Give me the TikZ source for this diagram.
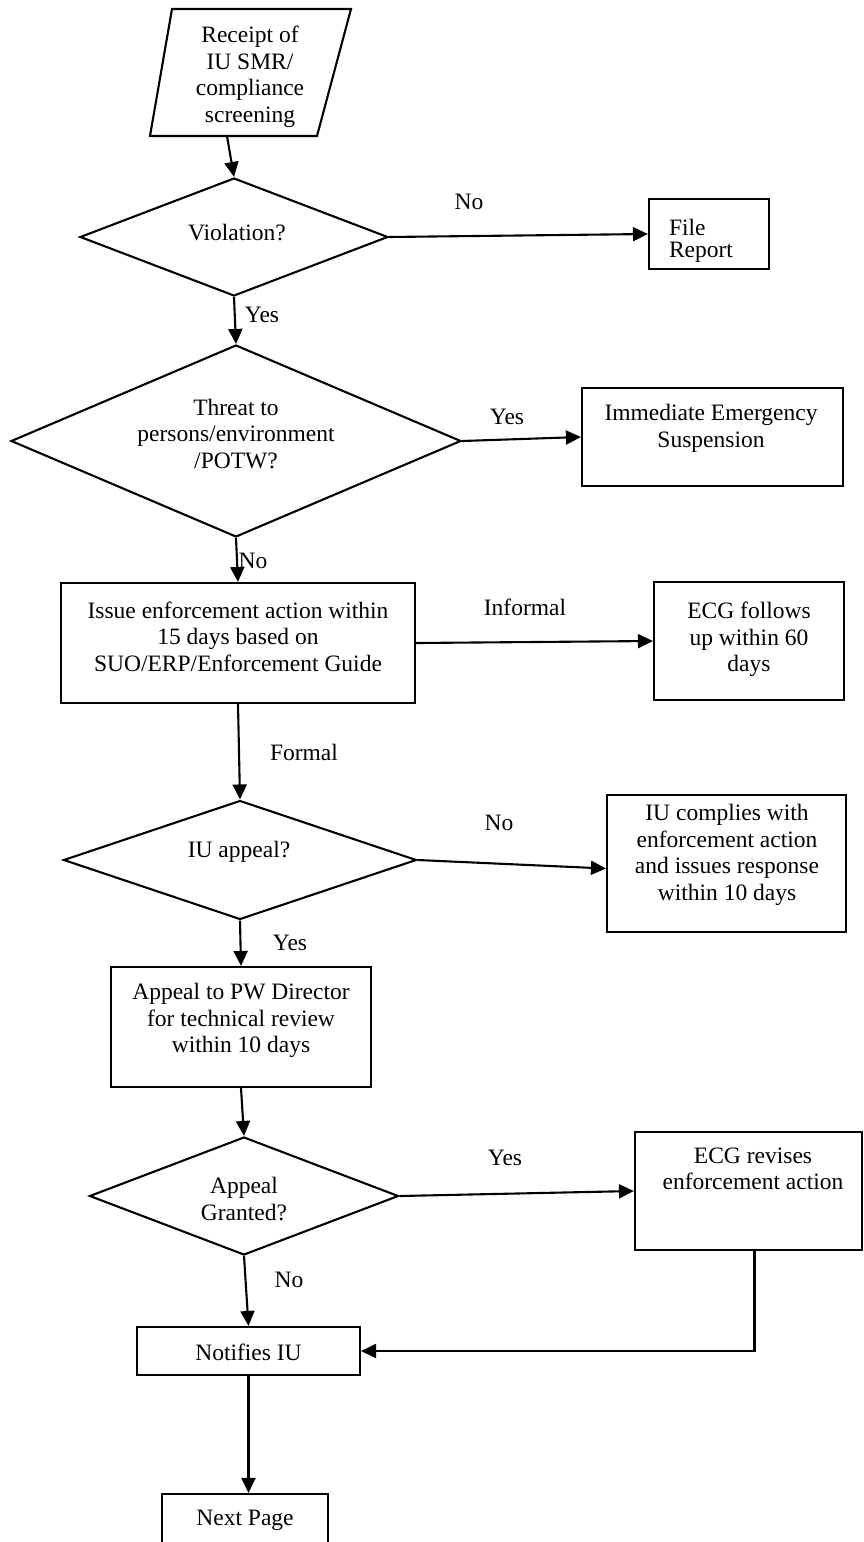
\documentclass[tikz,border=0pt]{standalone}
\usepackage{fontspec}
\setmainfont{Liberation Serif}
\usetikzlibrary{shapes.geometric,arrows.meta}
\begin{document}
\begin{tikzpicture}[x=1pt,y=-1pt,line width=2.1pt,
  arr/.style={-{Triangle[length=15pt,width=14pt]}},
  box/.style={draw,rectangle,inner sep=0pt},
  dia/.style={draw,diamond,inner sep=0pt},
  txt/.style={align=center,inner sep=0pt,font=\fontsize{23.5}{26.5}\selectfont},
  lbl/.style={inner sep=0pt,font=\fontsize{23.5}{26.5}\selectfont}]
\useasboundingbox (0,0) rectangle (864,1542);
\clip (0,0) rectangle (864,1542);
\fill[white] (0,0) rectangle (864,1542);
% input parallelogram
\coordinate (p1) at (172,9);
\coordinate (p2) at (351,9);
\coordinate (p3) at (317,136);
\coordinate (p4) at (150,136);
\draw (p1) -- (p2) -- (p3) -- (p4) -- cycle;
\node[txt] (rec) at (250,77) {Receipt of\\IU SMR/\\compliance\\screening};
\coordinate (recb) at (227,136);
% diamond 1
\node[dia,minimum width=308pt,minimum height=118pt] (d1) at (234,237) {};
\node[txt] (d1t) at (237,233) {Violation?};
\draw[arr] (recb) -- (d1.north);
% file report
\node[box,minimum width=120pt,minimum height=70pt] (fr) at (709,234) {};
\node[align=left,inner sep=0pt,anchor=west,font=\fontsize{23.5}{22}\selectfont] (frt) at (668,241) {File\\Report};
\draw[arr] (d1.east) -- (fr.west);
\node[lbl] (l1) at (469,202) {No};
% diamond 2
\node[lbl] (l2) at (262,315) {Yes};
\node[dia,minimum width=450pt,minimum height=192pt] (d2) at (236,441) {};
\node[txt] (d2t) at (236,434) {Threat to\\persons/environment\\/POTW?};
\draw[arr] (d1.south) -- (d2.north);
% immediate
\node[box,minimum width=261pt,minimum height=98pt] (imm) at (712.5,437) {};
\node[txt] (immt) at (711,428.5) {Immediate Emergency\\Suspension};
\draw[arr] (d2.east) -- (imm.west);
\node[lbl] (l3) at (507,417) {Yes};
% issue
\node[box,minimum width=354pt,minimum height=120pt] (iss) at (238,643) {};
\node[txt] (isst) at (238,636.5) {Issue enforcement action within\\15 days based on\\SUO/ERP/Enforcement Guide};
\draw[arr] (d2.south) -- (iss.north);
\node[lbl] (l4) at (253,561) {No};
% ecg follows
\node[box,minimum width=190pt,minimum height=118pt] (ecg1) at (749,641) {};
\node[txt] (ecg1t) at (749,639.5) {ECG follows\\up within 60\\days};
\draw[arr] (iss.east) -- (ecg1.west);
\node[lbl] (l5) at (525,607) {Informal};
% diamond 3
\node[dia,minimum width=353pt,minimum height=119pt] (d3) at (240,860) {};
\node[txt] (d3t) at (239,852) {IU appeal?};
\draw[arr] (iss.south) -- (d3.north);
\node[lbl] (l6) at (304,752) {Formal};
% iu complies
\node[box,minimum width=239pt,minimum height=137pt] (iu) at (726.5,863.5) {};
\node[txt] (iut) at (727,855) {IU complies with\\enforcement action\\and issues response\\within 10 days};
\draw[arr] (d3.east) -- ([yshift=-5pt]iu.west);
\node[lbl] (l7) at (499,823) {No};
% appeal
\node[box,minimum width=260pt,minimum height=120pt] (app) at (241,1027) {};
\node[txt] (appt) at (241,1020.5) {Appeal to PW Director\\for technical review\\within 10 days};
\draw[arr] (d3.south) -- (app.north);
\node[lbl] (l8) at (290,943) {Yes};
% diamond 4
\node[dia,minimum width=309pt,minimum height=118pt] (d4) at (244,1196) {};
\node[txt] (d4t) at (244,1199) {Appeal\\Granted?};
\draw[arr] (app.south) -- (d4.north);
% ecg revises
\node[box,minimum width=227pt,minimum height=118pt] (ecg2) at (748.5,1191) {};
\node[txt] (ecg2t) at (753,1169) {ECG revises\\enforcement action};
\draw[arr] (d4.east) -- (ecg2.west);
\node[lbl] (l9) at (505,1158) {Yes};
% notifies
\node[box,minimum width=223pt,minimum height=48pt] (nt) at (248.5,1351) {};
\node[txt] (ntt) at (248.5,1352) {Notifies IU};
\draw[arr] (d4.south) -- (nt.north);
\node[lbl] (l10) at (289,1280) {No};
\draw[arr] ([xshift=6pt]ecg2.south) |- (nt.east);
% next page
\node[box,minimum width=166pt,minimum height=66pt] (np) at (245,1527) {};
\node[txt] (npt) at (245,1520) {Next Page};
\draw[arr] (nt.south) -- (nt.south |- np.north);
\end{tikzpicture}
\end{document}
